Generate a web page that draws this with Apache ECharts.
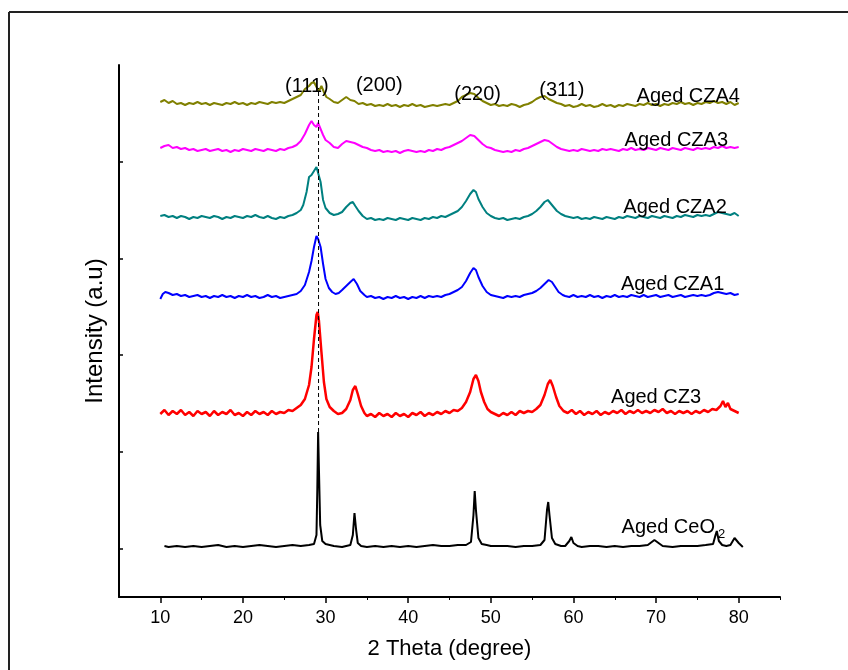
<!DOCTYPE html>
<html><head><meta charset="utf-8">
<script src="https://cdn.jsdelivr.net/npm/echarts@6/dist/echarts.min.js"></script>
<style>html,body{margin:0;padding:0;background:#fff}#c{width:848px;height:670px}</style>
</head><body><div id="c"></div>
<script>
// x: 2 Theta (degree); y: intensity (a.u., stacked offsets)
const ceo2 = [[10.5,51],[11,50],[12,51],[13,50],[14,51],[15,50],[16,51],[17,52],[18,50],[19,51],[20,50],[21,51],[22,52],[23,51],[24,50],[25,51],[26,52],[27,51],[28,52],
[28.6,53],[28.9,62],[29.0,107],[29.1,165],[29.2,127],[29.35,72],[29.6,56],
[30,53],[30.5,52],[31,51],[32,50],[33,52],[33.3,62],[33.5,84],[33.7,67],[33.9,54],[34.3,51],
[35,50],[36,51],[37,50],[38,51],[39,50],[40,51],[41,50],[42,51],[43,52],[44,51],[45,51],[46,52],[47,52],
[47.6,55],[47.9,82],[48.05,106],[48.2,87],[48.5,59],[48.9,53],[49.5,52],
[50,51],[51,51],[52,51],[53,50],[54,51],[55,51],[56,52],
[56.5,57],[56.8,87],[56.95,95],[57.1,82],[57.4,59],[57.8,53],[58.5,51],
[59,51],[59.5,56],[59.75,60],[60,54],[60.5,51],
[61,50],[62,51],[63,51],[64,50],[65,51],[66,50],[67,51],[68,51],[69,52],
[69.8,57],[70.0,58],[70.3,54],[70.8,51],
[71,51],[72,50],[73,51],[74,51],[75,51],[76,52],
[76.9,53],[77.2,62],[77.35,66],[77.6,56],[78,52],[78.5,51],[79,52],[79.5,59],[79.7,60],[80,54],[80.5,50]];

const cz3 = [[10,183],[10.5,187],[11,182],[11.5,186],[12,183],[12.5,187],[13,182],[13.5,185],[14,181],[14.5,186],[15,183],[15.5,185],[16,181],[16.5,186],[17,182],[17.5,185],[18,183],[18.5,187],[19,182],[19.5,184],[20,181],[20.5,185],[21,182],[21.5,186],[22,183],[22.5,185],[23,182],[23.5,186],[24,183],[24.5,185],[25,184],[25.5,187],[26,186],[26.5,189],[27,192],[27.5,198],[28,212],[28.3,230],[28.6,258],[28.9,282],[29.05,285],[29.2,276],[29.5,245],[29.8,215],[30.1,198],[30.5,190],[31,186],[31.5,183],[32,184],[32.5,188],[33,197],[33.3,207],[33.6,211],[33.9,203],[34.3,191],[34.7,184],[35,181],[35.5,183],[36,180],[36.5,184],[37,181],[37.5,183],[38,180],[38.5,184],[39,181],[39.5,183],[40,180],[40.5,184],[41,182],[41.5,185],[42,181],[42.5,184],[43,182],[43.5,185],[44,183],[44.5,186],[45,184],[45.5,187],[46,186],[46.5,189],[47,195],[47.5,205],[47.9,218],[48.2,222],[48.5,216],[48.8,205],[49.2,195],[49.6,188],[50,185],[50.5,183],[51,181],[51.5,184],[52,182],[52.5,185],[53,182],[53.5,186],[54,184],[54.5,186],[55,185],[55.5,188],[56,192],[56.5,202],[56.9,213],[57.2,217],[57.5,211],[57.9,200],[58.3,191],[58.8,186],[59.3,184],[59.8,187],[60.3,183],[60.8,186],[61.3,182],[61.8,185],[62.3,183],[62.8,186],[63.3,182],[63.8,185],[64.3,183],[64.8,186],[65.3,184],[65.8,187],[66.3,183],[66.8,186],[67.3,184],[67.8,187],[68.3,184],[68.8,186],[69.3,184],[69.8,187],[70.3,185],[70.8,188],[71.3,184],[71.8,186],[72.3,183],[72.8,186],[73.3,184],[73.8,186],[74.3,183],[74.8,186],[75.3,184],[75.8,187],[76.3,185],[76.8,188],[77.3,187],[77.8,191],[78.1,196],[78.4,190],[78.7,194],[79,188],[79.5,186],[80,184]];

const cza1 = [[10,298],[10.3,303],[10.6,305],[11,304],[11.5,302],[12,303],[12.5,301],[13,302],[13.5,300],[14,301],[14.5,302],[15,300],[15.5,301],[16,299],[16.5,301],[17,300],[17.5,302],[18,300],[18.5,301],[19,299],[19.5,301],[20,300],[20.5,302],[21,300],[21.5,301],[22,299],[22.5,300],[23,302],[23.5,300],[24,301],[24.5,299],[25,300],[25.5,301],[26,302],[26.5,303],[27,306],[27.5,312],[28,325],[28.3,336],[28.6,350],[28.9,361],[29.1,358],[29.4,350],[29.7,333],[30,318],[30.4,309],[30.8,305],[31.2,303],[31.6,304],[32,307],[32.5,311],[33,315],[33.4,318],[33.8,313],[34.2,306],[34.7,302],[35,300],[35.5,301],[36,299],[36.5,300],[37,298],[37.5,300],[38,299],[38.5,301],[39,299],[39.5,300],[40,298],[40.5,300],[41,299],[41.5,301],[42,299],[42.5,301],[43,300],[43.5,301],[44,300],[44.5,302],[45,303],[45.5,305],[46,307],[46.5,310],[47,316],[47.5,324],[47.9,329],[48.2,327],[48.5,320],[49,311],[49.5,305],[50,302],[50.5,301],[51,300],[51.5,299],[52,301],[52.5,300],[53,301],[53.5,300],[54,302],[54.5,303],[55,304],[55.5,306],[56,309],[56.5,313],[57,317],[57.4,315],[57.8,310],[58.2,305],[58.7,302],[59,301],[59.5,300],[60,302],[60.5,300],[61,301],[61.5,300],[62,302],[62.5,300],[63,301],[63.5,299],[64,301],[64.5,300],[65,302],[65.5,300],[66,301],[66.5,300],[67,302],[67.5,301],[68,300],[68.5,302],[69,300],[69.5,301],[70,302],[70.5,300],[71,301],[71.5,302],[72,300],[72.5,301],[73,302],[73.5,300],[74,301],[74.5,302],[75,301],[75.5,302],[76,301],[76.5,302],[77,304],[77.5,305],[78,304],[78.5,303],[79,304],[79.5,302],[80,303]];

const cza2 = [[10,381],[10.5,382],[11,380],[11.5,381],[12,379],[12.5,381],[13,380],[13.5,378],[14,380],[14.5,379],[15,381],[15.5,380],[16,379],[16.5,381],[17,380],[17.5,378],[18,380],[18.5,379],[19,381],[19.5,380],[20,379],[20.5,381],[21,380],[21.5,382],[22,380],[22.5,379],[23,381],[23.5,379],[24,378],[24.5,380],[25,379],[25.5,381],[26,382],[26.5,384],[27,387],[27.3,392],[27.7,405],[28,420],[28.3,422],[28.6,426],[28.9,430],[29.1,428],[29.4,415],[29.7,397],[30,389],[30.5,384],[31,382],[31.5,383],[32,385],[32.5,390],[33,394],[33.3,395],[33.6,391],[34,386],[34.5,381],[35,378],[35.5,379],[36,377],[36.5,378],[37,377],[37.5,379],[38,378],[38.5,377],[39,379],[39.5,378],[40,377],[40.5,379],[41,378],[41.5,377],[42,379],[42.5,378],[43,380],[43.5,379],[44,381],[44.5,380],[45,382],[45.5,384],[46,386],[46.5,390],[47,396],[47.5,403],[47.9,407],[48.2,405],[48.5,398],[49,390],[49.5,384],[50,381],[50.5,379],[51,378],[51.5,379],[52,377],[52.5,378],[53,379],[53.5,378],[54,380],[54.5,381],[55,383],[55.5,386],[56,390],[56.5,395],[56.9,397],[57.2,394],[57.6,390],[58,386],[58.5,383],[59,381],[59.5,380],[60,379],[60.5,380],[61,378],[61.5,379],[62,378],[62.5,380],[63,379],[63.5,378],[64,380],[64.5,379],[65,378],[65.5,380],[66,379],[66.5,381],[67,380],[67.5,379],[68,381],[68.5,380],[69,379],[69.5,381],[70,380],[70.5,379],[71,381],[71.5,380],[72,379],[72.5,381],[73,380],[73.5,382],[74,381],[74.5,380],[75,382],[75.5,381],[76,382],[76.5,381],[77,383],[77.5,385],[78,384],[78.5,383],[79,382],[79.5,384],[80,381]];

const cza3 = [[10,449],[10.5,451],[11,452],[11.5,449],[12,450],[12.5,448],[13,449],[13.5,447],[14,448],[14.5,446],[15,447],[15.5,448],[16,446],[16.5,447],[17,448],[17.5,446],[18,447],[18.5,445],[19,447],[19.5,446],[20,448],[20.5,447],[21,446],[21.5,448],[22,447],[22.5,446],[23,448],[23.5,447],[24,446],[24.5,448],[25,447],[25.5,449],[26,450],[26.5,452],[27,456],[27.5,463],[28,472],[28.3,476],[28.6,472],[28.9,470],[29.1,474],[29.4,468],[29.7,462],[30,457],[30.5,454],[31,450],[31.5,449],[32,453],[32.5,456],[33,455],[33.5,454],[34,452],[34.5,450],[35,449],[35.5,447],[36,446],[36.5,447],[37,445],[37.5,446],[38,445],[38.5,446],[39,444],[39.5,446],[40,447],[40.5,446],[41,445],[41.5,446],[42,445],[42.5,447],[43,446],[43.5,448],[44,447],[44.5,449],[45,450],[45.5,452],[46,454],[46.5,456],[47,459],[47.5,462],[48,461],[48.5,457],[49,453],[49.5,450],[50,449],[50.5,447],[51,446],[51.5,445],[52,446],[52.5,445],[53,447],[53.5,446],[54,448],[54.5,449],[55,451],[55.5,453],[56,455],[56.5,457],[57,456],[57.5,453],[58,450],[58.5,448],[59,447],[59.5,446],[60,447],[60.5,446],[61,448],[61.5,447],[62,446],[62.5,447],[63,446],[63.5,448],[64,447],[64.5,448],[65,447],[65.5,446],[66,448],[66.5,447],[67,449],[67.5,447],[68,448],[68.5,447],[69,449],[69.5,448],[70,447],[70.5,449],[71,448],[71.5,447],[72,449],[72.5,448],[73,447],[73.5,449],[74,448],[74.5,447],[75,449],[75.5,448],[76,449],[76.5,448],[77,450],[77.5,449],[78,451],[78.5,449],[79,450],[79.5,449],[80,450]];

const cza4 = [[10,495],[10.5,497],[11,494],[11.5,496],[12,493],[12.5,494],[13,492],[13.5,494],[14,493],[14.5,495],[15,493],[15.5,494],[16,492],[16.5,494],[17,493],[17.5,492],[18,494],[18.5,493],[19,495],[19.5,493],[20,494],[20.5,492],[21,494],[21.5,493],[22,495],[22.5,494],[23,493],[23.5,495],[24,494],[24.5,495],[25,494],[25.5,496],[26,498],[26.5,500],[27,502],[27.5,508],[28,511],[28.3,514],[28.6,515],[28.9,510],[29.2,506],[29.5,511],[29.8,505],[30.1,500],[30.5,498],[31,495],[31.5,494],[32,497],[32.5,500],[33,497],[33.5,496],[34,493],[34.5,494],[35,492],[35.5,493],[36,491],[36.5,492],[37,491],[37.5,493],[38,491],[38.5,492],[39,490],[39.5,492],[40,491],[40.5,493],[41,491],[41.5,492],[42,490],[42.5,491],[43,492],[43.5,491],[44,492],[44.5,493],[45,492],[45.5,494],[46,496],[46.5,500],[47,502],[47.5,504],[48,503],[48.5,499],[49,496],[49.5,494],[50,492],[50.5,493],[51,491],[51.5,492],[52,491],[52.5,493],[53,492],[53.5,490],[54,492],[54.5,493],[55,495],[55.5,498],[56,500],[56.5,501],[57,498],[57.5,496],[58,494],[58.5,493],[59,491],[59.5,492],[60,490],[60.5,491],[61,493],[61.5,491],[62,492],[62.5,490],[63,491],[63.5,493],[64,491],[64.5,492],[65,490],[65.5,492],[66,491],[66.5,493],[67,492],[67.5,491],[68,493],[68.5,492],[69,494],[69.5,492],[70,493],[70.5,491],[71,493],[71.5,492],[72,494],[72.5,493],[73,495],[73.5,493],[74,494],[74.5,492],[75,494],[75.5,493],[76,495],[76.5,494],[77,496],[77.5,494],[78,495],[78.5,493],[79,495],[79.5,492],[80,494]];

const refLine = [[29.15,165],[29.15,509]];

const xTicks = [10,20,30,40,50,60,70,80];
const xMinorTicks = [15,25,35,45,55,65,75,85];
const yTicks = [48.4,145.1,241.8,338.5,435.2];

const annText = ['(111)','(200)','(220)','(311)','Aged CZA4','Aged CZA3','Aged CZA2','Aged CZA1','Aged CZ3','Aged CeO{sub|2}'];
const annX = [27.74,36.5,48.4,58.6,73.9,72.45,72.3,72.0,70.0,72.1];
const annY = [511,512,503,507,501,457,390,313,200,70];

const FONT = 'Liberation Sans, Arial, sans-serif';
const chart = echarts.init(document.getElementById('c'), null, {renderer:'canvas'});

function lineSeries(name, data, color, width){
  return {name, type:'line', data, symbol:'none', smooth:false, animation:false,
    lineStyle:{color, width}, itemStyle:{color}, z:2, emphasis:{disabled:true}};
}

const annData = annText.map((t,i)=>({value:[annX[i],annY[i]], name:t}));

chart.setOption({
  animation:false,
  backgroundColor:'#fff',
  grid:{left:119, right:68, top:65, bottom:73},
  xAxis:[{
    type:'value', min:5, max:85,
    axisLine:{show:true, lineStyle:{color:'#000', width:2}},
    axisTick:{show:true, inside:false, length:6, customValues:xTicks, lineStyle:{color:'#000', width:1.5}},
    axisLabel:{show:true, customValues:xTicks, color:'#000', fontSize:18, fontFamily:FONT, margin:12},
    splitLine:{show:false},
    name:'2 Theta (degree)', nameLocation:'middle', nameGap:41,
    nameTextStyle:{color:'#000', fontSize:22, fontFamily:FONT}
  },{
    type:'value', min:5, max:85, position:'bottom',
    axisLine:{show:false},
    axisTick:{show:true, inside:false, length:3, customValues:xMinorTicks, lineStyle:{color:'#000', width:1}},
    axisLabel:{show:false},
    splitLine:{show:false}
  }],
  yAxis:{
    type:'value', min:0, max:532,
    axisLine:{show:true, lineStyle:{color:'#000', width:2}},
    axisTick:{show:true, inside:true, length:4, customValues:yTicks, lineStyle:{color:'#000', width:1.5}},
    axisLabel:{show:false},
    splitLine:{show:false},
    name:'Intensity (a.u)', nameLocation:'middle', nameGap:12,
    nameTextStyle:{color:'#000', fontSize:24, fontFamily:FONT}
  },
  graphic:[
    {type:'line', shape:{x1:9,y1:12,x2:848,y2:12}, style:{stroke:'#222', lineWidth:2}},
    {type:'line', shape:{x1:9,y1:12,x2:9,y2:670}, style:{stroke:'#222', lineWidth:2}}
  ],
  series:[
    lineSeries('Aged CeO2', ceo2, '#000000', 2),
    lineSeries('Aged CZ3', cz3, '#ff0000', 2.5),
    lineSeries('Aged CZA1', cza1, '#0000ff', 2),
    lineSeries('Aged CZA2', cza2, '#008080', 2),
    lineSeries('Aged CZA3', cza3, '#ff00ff', 2),
    lineSeries('Aged CZA4', cza4, '#808000', 2),
    {type:'line', data:refLine, symbol:'none', lineStyle:{color:'#000', width:1, type:[4,3]}, z:3, emphasis:{disabled:true}},
    {type:'scatter', data:annData, symbolSize:0, z:4, emphasis:{disabled:true},
      itemStyle:{color:'#000'},
      label:{show:true, position:'inside', formatter:p=>p.name, color:'#000', opacity:1,
        textBorderWidth:0, textBorderColor:'transparent', textShadowBlur:0,
        fontSize:20, fontFamily:FONT,
        rich:{sub:{fontSize:13, fontFamily:FONT, color:'#000', textBorderWidth:0, verticalAlign:'bottom', padding:[14,0,0,3]}}}}
  ]
});
</script></body></html>
